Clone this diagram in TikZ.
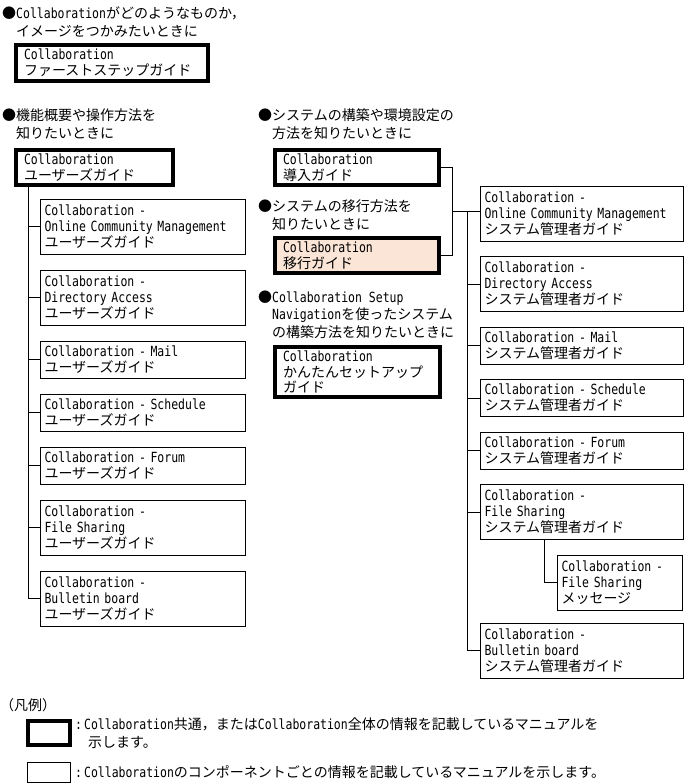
\documentclass[tikz,border=0pt]{standalone}
\usepackage{fontspec}
\setmainfont{DejaVu Sans Mono}[FakeStretch=0.82]
\newfontfamily\jpfont{Noto Sans CJK JP}
\newcommand{\jtext}[1]{{\jpfont #1}}
\usetikzlibrary{positioning}
\usetikzlibrary{calc}
\definecolor{migrfill}{RGB}{251,229,214}
\tikzset{
	guide/.style={
		draw,
		anchor=north west,
		align=left,
		outer sep=0pt,
		inner ysep=0pt,
		font=\fontsize{14}{16}\selectfont},
	thickguide/.style={guide, line width=3.5pt, inner xsep=8pt},
	thinguide/.style={guide, line width=0.9pt, inner xsep=4.5pt},
	usercol/.style={thinguide, text width=196pt},
	admincol/.style={thinguide, text width=194pt},
	caption/.style={
		anchor=north west,
		align=left,
		inner sep=0pt,
		font=\fontsize{14}{17.5}\selectfont},
	link/.style={draw, line width=0.9pt}
}

\begin{document}
\begin{tikzpicture}[x=1pt, y=-1pt]
	\useasboundingbox (0,0) rectangle (687,784);
	% captions
	\node[caption] (capfirst) at (2,6.5) {\jtext{●}Collaboration\jtext{がどのようなものか，}\\\jtext{\phantom{●}イメージをつかみたいときに}};
	\node[caption] (capuser) at (2,108.5) {\jtext{●機能概要や操作方法を}\\\jtext{\phantom{●}知りたいときに}};
	\node[caption] (capbuild) at (258,108.5) {\jtext{●システムの構築や環境設定の}\\\jtext{\phantom{●}方法を知りたいときに}};
	\node[caption] (capmigr) at (258,199.5) {\jtext{●システムの移行方法を}\\\jtext{\phantom{●}知りたいときに}};
	\node[caption] (capsetup) at (258,290.5) {\jtext{●}Collaboration Setup\\\jtext{\phantom{●}}Navigation\jtext{を使ったシステム}\\\jtext{\phantom{●}の構築方法を知りたいときに}};
	% common manuals
	\node[thickguide, text width=176pt, minimum height=36pt] (first) at (16,45) {Collaboration\\\jtext{ファーストステップガイド}};
	\node[thickguide, text width=141pt, minimum height=35pt] (userguide) at (16,150) {Collaboration\\\jtext{ユーザーズガイド}};
	\node[thickguide, text width=148pt, minimum height=35pt] (intro) at (275,150) {Collaboration\\\jtext{導入ガイド}};
	\node[thickguide, text width=148pt, minimum height=35pt, fill=migrfill] (migr) at (275,238) {Collaboration\\\jtext{移行ガイド}};
	\node[thickguide, text width=149pt, minimum height=50pt, font=\fontsize{14}{15.5}\selectfont] (setup) at (275,347) {Collaboration\\\jtext{かんたんセットアップ}\\\jtext{ガイド}};
	% user guides
	\node[usercol, minimum height=55pt] (uocm) at (40,199) {Collaboration -\\Online Community Management\\\jtext{ユーザーズガイド}};
	\node[usercol, minimum height=55pt, below=16pt of uocm.south west, anchor=north west] (uda) {Collaboration -\\Directory Access\\\jtext{ユーザーズガイド}};
	\node[usercol, minimum height=37pt, below=16pt of uda.south west, anchor=north west] (umail) {Collaboration - Mail\\\jtext{ユーザーズガイド}};
	\node[usercol, minimum height=37pt, below=16pt of umail.south west, anchor=north west] (usched) {Collaboration - Schedule\\\jtext{ユーザーズガイド}};
	\node[usercol, minimum height=37pt, below=16pt of usched.south west, anchor=north west] (uforum) {Collaboration - Forum\\\jtext{ユーザーズガイド}};
	\node[usercol, minimum height=55pt, below=16pt of uforum.south west, anchor=north west] (ufs) {Collaboration -\\File Sharing\\\jtext{ユーザーズガイド}};
	\node[usercol, minimum height=55pt, below=16pt of ufs.south west, anchor=north west] (ubb) {Collaboration -\\Bulletin board\\\jtext{ユーザーズガイド}};
	% administrator guides
	\node[admincol, minimum height=55pt] (aocm) at (480,186) {Collaboration -\\Online Community Management\\\jtext{システム管理者ガイド}};
	\node[admincol, minimum height=55pt, below=15.5pt of aocm.south west, anchor=north west] (ada) {Collaboration -\\Directory Access\\\jtext{システム管理者ガイド}};
	\node[admincol, minimum height=37pt, below=15.5pt of ada.south west, anchor=north west] (amail) {Collaboration - Mail\\\jtext{システム管理者ガイド}};
	\node[admincol, minimum height=37pt, below=15.5pt of amail.south west, anchor=north west] (asched) {Collaboration - Schedule\\\jtext{システム管理者ガイド}};
	\node[admincol, minimum height=37pt, below=15.5pt of asched.south west, anchor=north west] (aforum) {Collaboration - Forum\\\jtext{システム管理者ガイド}};
	\node[admincol, minimum height=55pt, below=15.5pt of aforum.south west, anchor=north west] (afs) {Collaboration -\\File Sharing\\\jtext{システム管理者ガイド}};
	\node[thinguide, text width=116pt, minimum height=55pt] (amsg) at (557,555) {Collaboration -\\File Sharing\\\jtext{メッセージ}};
	\node[admincol, minimum height=55pt] (abb) at (480,623) {Collaboration -\\Bulletin board\\\jtext{システム管理者ガイド}};
	% connectors
	\coordinate (utrunk) at ([xshift=12pt]userguide.south west);
	\foreach \g in {uocm,uda,umail,usched,uforum,ufs,ubb}
		\draw[link] (utrunk) |- (\g.west);
	\draw[link] (intro.east) -- ++(13,0) |- (migr.east);
	\coordinate (bmid) at ($(intro.east)!.5!(migr.east)+(13,0)$);
	\draw[link] (bmid) -- (bmid -| aocm.west);
	\coordinate (atrunk) at ($(bmid)+(15,0)$);
	\foreach \g in {ada,amail,asched,aforum,afs,abb}
		\draw[link] (atrunk) |- (\g.west);
	\draw[link] ([xshift=64pt]afs.south west) |- (amsg.west);
	% legend
	\node[caption] (legendhead) at (0,698.5) {\jtext{（凡例）}};
	\node[thickguide, minimum width=42pt, minimum height=24pt] (keythick) at (28,721) {};
	\node[thinguide, minimum width=43pt, minimum height=20pt] (keythin) at (27,762) {};
	\node[caption, right=5pt of keythick] (keythicktext) {:\hspace{2pt}Collaboration\jtext{共通，または}Collaboration\jtext{全体の情報を記載しているマニュアルを}\\\hspace*{13pt}\jtext{示します。}};
	\node[caption, right=5pt of keythin] (keythintext) {:\hspace{2pt}Collaboration\jtext{のコンポーネントごとの情報を記載しているマニュアルを示します。}};
\end{tikzpicture}
\end{document}
